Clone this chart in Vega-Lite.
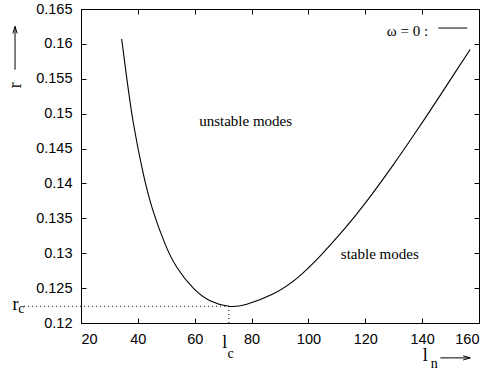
{
  "$schema": "https://vega.github.io/schema/vega-lite/v6.json",
  "width": 398,
  "height": 314,
  "autosize": "none",
  "padding": {"left": 81, "top": 9, "right": 12, "bottom": 53},
  "background": "white",
  "config": {
    "view": {"stroke": "black", "strokeWidth": 1},
    "axis": {"grid": false, "domain": false, "tickColor": "black", "tickSize": -5, "labelFont": "Liberation Sans", "labelFontSize": 14.5, "labelColor": "black", "title": null}
  },
  "datasets": {
    "curve": [
      {"l": 34.3, "r": 0.1607}, {"l": 36.1, "r": 0.1551}, {"l": 38.4, "r": 0.1487},
      {"l": 41.9, "r": 0.1414}, {"l": 45.4, "r": 0.1360}, {"l": 49.6, "r": 0.1313},
      {"l": 53.7, "r": 0.1280}, {"l": 59.5, "r": 0.1250}, {"l": 65.4, "r": 0.1232},
      {"l": 72.0, "r": 0.1224}, {"l": 78.3, "r": 0.1227}, {"l": 87.7, "r": 0.1242},
      {"l": 95.9, "r": 0.1264}, {"l": 104.1, "r": 0.1296}, {"l": 112.3, "r": 0.1333},
      {"l": 120.6, "r": 0.1375}, {"l": 129.9, "r": 0.1427}, {"l": 137.0, "r": 0.1469},
      {"l": 145.2, "r": 0.1519}, {"l": 151.1, "r": 0.1556}, {"l": 156.9, "r": 0.1592}
    ]
  },
  "layer": [
    {
      "data": {"name": "curve"},
      "mark": {"type": "line", "color": "black", "strokeWidth": 1.1, "interpolate": "natural"},
      "encoding": {
        "x": {"field": "l", "type": "quantitative", "scale": {"domain": [20, 160], "nice": false, "zero": false},
              "axis": {"orient": "bottom", "values": [20, 40, 60, 80, 100, 120, 140, 160], "format": "d", "labelPadding": 14}},
        "y": {"field": "r", "type": "quantitative", "scale": {"domain": [0.12, 0.165], "nice": false, "zero": false},
              "axis": {"orient": "left", "values": [0.12, 0.125, 0.13, 0.135, 0.14, 0.145, 0.15, 0.155, 0.16, 0.165], "format": ".3~f", "labelPadding": 14}}
      }
    },
    {
      "data": {"name": "curve"},
      "mark": {"type": "line", "opacity": 0},
      "encoding": {
        "x": {"field": "l", "type": "quantitative", "axis": {"orient": "top", "values": [20, 40, 60, 80, 100, 120, 140, 160], "labels": false}},
        "y": {"field": "r", "type": "quantitative", "axis": {"orient": "right", "values": [0.12, 0.125, 0.13, 0.135, 0.14, 0.145, 0.15, 0.155, 0.16, 0.165], "labels": false}}
      }
    },
    {
      "data": {"values": [
        {"x": 0, "x2": 72, "y": 0.1224, "y2": 0.1224},
        {"x": 72, "x2": 72, "y": 0.12, "y2": 0.1224}
      ]},
      "mark": {"type": "rule", "color": "black", "strokeWidth": 1, "strokeDash": [1, 3]},
      "encoding": {
        "x": {"field": "x", "type": "quantitative", "axis": null},
        "x2": {"field": "x2"},
        "y": {"field": "y", "type": "quantitative", "axis": null},
        "y2": {"field": "y2"}
      }
    },
    {
      "data": {"values": [
        {"x": 145.7, "x2": 155.9, "y": 0.16227, "y2": 0.16227},
        {"x": -3.2, "x2": -3.2, "y": 0.1563, "y2": 0.1625},
        {"x": 146.4, "x2": 156.9, "y": 0.1150, "y2": 0.1150}
      ]},
      "mark": {"type": "rule", "color": "black", "strokeWidth": 1},
      "encoding": {
        "x": {"field": "x", "type": "quantitative", "axis": null},
        "x2": {"field": "x2"},
        "y": {"field": "y", "type": "quantitative", "axis": null},
        "y2": {"field": "y2"}
      }
    },
    {
      "data": {"values": [{"x": -3.2, "y": 0.1625}]},
      "mark": {"type": "point", "shape": "M -0.3 1 L 0 0 L 0.3 1", "filled": false, "stroke": "black", "strokeWidth": 1, "size": 200, "opacity": 1},
      "encoding": {
        "x": {"field": "x", "type": "quantitative", "axis": null},
        "y": {"field": "y", "type": "quantitative", "axis": null}
      }
    },
    {
      "data": {"values": [{"x": 156.9, "y": 0.1150}]},
      "mark": {"type": "point", "shape": "M -1 -0.3 L 0 0 L -1 0.3", "filled": false, "stroke": "black", "strokeWidth": 1, "size": 200, "opacity": 1},
      "encoding": {
        "x": {"field": "x", "type": "quantitative", "axis": null},
        "y": {"field": "y", "type": "quantitative", "axis": null}
      }
    },
    {
      "data": {"values": [
        {"x": 77.9, "y": 0.14827, "t": "unstable modes"},
        {"x": 125.1, "y": 0.12917, "t": "stable modes"}
      ]},
      "mark": {"type": "text", "font": "Liberation Serif", "fontSize": 15, "align": "center", "baseline": "alphabetic", "color": "black"},
      "encoding": {
        "x": {"field": "x", "type": "quantitative", "axis": null},
        "y": {"field": "y", "type": "quantitative", "axis": null},
        "text": {"field": "t"}
      }
    },
    {
      "data": {"values": [{"x": 142.1, "y": 0.16112, "t": "ω = 0 :"}]},
      "mark": {"type": "text", "font": "Liberation Serif", "fontSize": 15, "align": "right", "baseline": "alphabetic", "color": "black"},
      "encoding": {
        "x": {"field": "x", "type": "quantitative", "axis": null},
        "y": {"field": "y", "type": "quantitative", "axis": null},
        "text": {"field": "t"}
      }
    },
    {
      "data": {"values": [{"x": -2.7, "y": 0.15409, "t": "r"}]},
      "mark": {"type": "text", "font": "Liberation Serif", "fontSize": 18, "align": "center", "baseline": "middle", "angle": 270, "color": "black"},
      "encoding": {
        "x": {"field": "x", "type": "quantitative", "axis": null},
        "y": {"field": "y", "type": "quantitative", "axis": null},
        "text": {"field": "t"}
      }
    },
    {
      "data": {"values": [
        {"x": -3.06, "y": 0.12184, "t": "r"},
        {"x": 70.6, "y": 0.11641, "t": "l"},
        {"x": 141.1, "y": 0.11451, "t": "l"}
      ]},
      "mark": {"type": "text", "font": "Liberation Serif", "fontSize": 18, "align": "center", "baseline": "alphabetic", "color": "black"},
      "encoding": {
        "x": {"field": "x", "type": "quantitative", "axis": null},
        "y": {"field": "y", "type": "quantitative", "axis": null},
        "text": {"field": "t"}
      }
    },
    {
      "data": {"values": [
        {"x": -0.94, "y": 0.12148, "t": "c"},
        {"x": 72.6, "y": 0.11502, "t": "c"},
        {"x": 144.3, "y": 0.11358, "t": "n"}
      ]},
      "mark": {"type": "text", "font": "Liberation Serif", "fontSize": 14, "align": "center", "baseline": "alphabetic", "color": "black"},
      "encoding": {
        "x": {"field": "x", "type": "quantitative", "axis": null},
        "y": {"field": "y", "type": "quantitative", "axis": null},
        "text": {"field": "t"}
      }
    }
  ],
  "resolve": {"axis": {"x": "independent", "y": "independent"}}
}
